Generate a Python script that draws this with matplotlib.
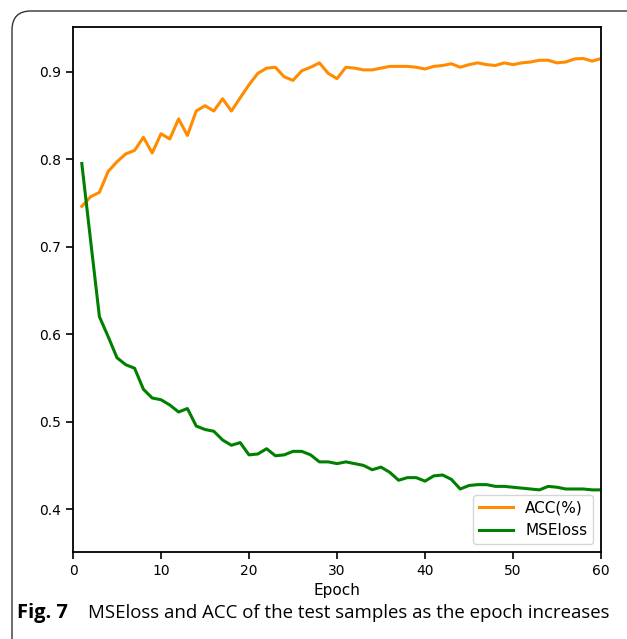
import matplotlib.pyplot as plt
from matplotlib.patches import FancyBboxPatch

# Values, epochs 1..60
epochs = list(range(1, 61))
acc = [0.746, 0.757, 0.762, 0.786, 0.797, 0.806, 0.810, 0.825, 0.807, 0.829,
       0.823, 0.846, 0.827, 0.855, 0.861, 0.855, 0.869, 0.855, 0.870, 0.885,
       0.898, 0.904, 0.905, 0.894, 0.890, 0.901, 0.905, 0.910, 0.898, 0.892,
       0.905, 0.904, 0.902, 0.902, 0.904, 0.906, 0.906, 0.906, 0.905, 0.903,
       0.906, 0.907, 0.909, 0.905, 0.908, 0.910, 0.908, 0.907, 0.910, 0.908,
       0.910, 0.911, 0.913, 0.913, 0.910, 0.911, 0.9145, 0.915, 0.912, 0.915]
mse = [0.795, 0.707, 0.620, 0.597, 0.573, 0.565, 0.561, 0.537, 0.527, 0.525,
       0.519, 0.511, 0.515, 0.495, 0.491, 0.489, 0.479, 0.473, 0.476, 0.462,
       0.463, 0.469, 0.461, 0.462, 0.466, 0.466, 0.462, 0.454, 0.454, 0.452,
       0.454, 0.452, 0.450, 0.445, 0.448, 0.442, 0.433, 0.436, 0.436, 0.432,
       0.438, 0.439, 0.434, 0.423, 0.427, 0.428, 0.428, 0.426, 0.426, 0.425,
       0.424, 0.423, 0.422, 0.426, 0.425, 0.423, 0.423, 0.423, 0.422, 0.422]
xticks = [0, 10, 20, 30, 40, 50, 60]
yticks = [0.4, 0.5, 0.6, 0.7, 0.8, 0.9]

fig = plt.figure(figsize=(6.27, 6.39), dpi=100)

# outer frame of the journal figure box
frame = FancyBboxPatch((12 / 627, -0.05), 1.2, (639 - 11) / 639 + 0.05,
                       boxstyle="round,pad=0,rounding_size=0.03",
                       transform=fig.transFigure, fill=False,
                       edgecolor="#333333", linewidth=1.0)
fig.patches.append(frame)

ax = fig.add_axes([73 / 627, (639 - 552) / 639, (601 - 73) / 627, (552 - 27) / 639])
ax.plot(epochs, acc, color="#ff8c00", lw=2.2, label="ACC(%)")
ax.plot(epochs, mse, color="#008000", lw=2.2, label="MSEloss")

ax.set_xlim(0, 60)
ax.set_ylim(0.351, 0.951)
ax.set_xticks(xticks)
ax.set_yticks(yticks)
ax.set_xticklabels([str(t) for t in xticks])
ax.set_yticklabels([f"{t:.1f}" for t in yticks])
ax.tick_params(labelsize=10, width=1.2, length=5)
for s in ax.spines.values():
    s.set_linewidth(1.3)
ax.set_xlabel("Epoch", fontsize=11)
ax.legend(loc="lower right", fontsize=11, handlelength=2.2)

fig.text(17 / 627, 1 - 613 / 639, "Fig. 7", fontsize=14.5, fontweight="bold",
         family="Open Sans", va="center", ha="left")
fig.text(88 / 627, 1 - 613 / 639,
         "MSEloss and ACC of the test samples as the epoch increases",
         fontsize=13.4, family="Open Sans", va="center", ha="left")

fig.savefig("out.png", dpi=100)
